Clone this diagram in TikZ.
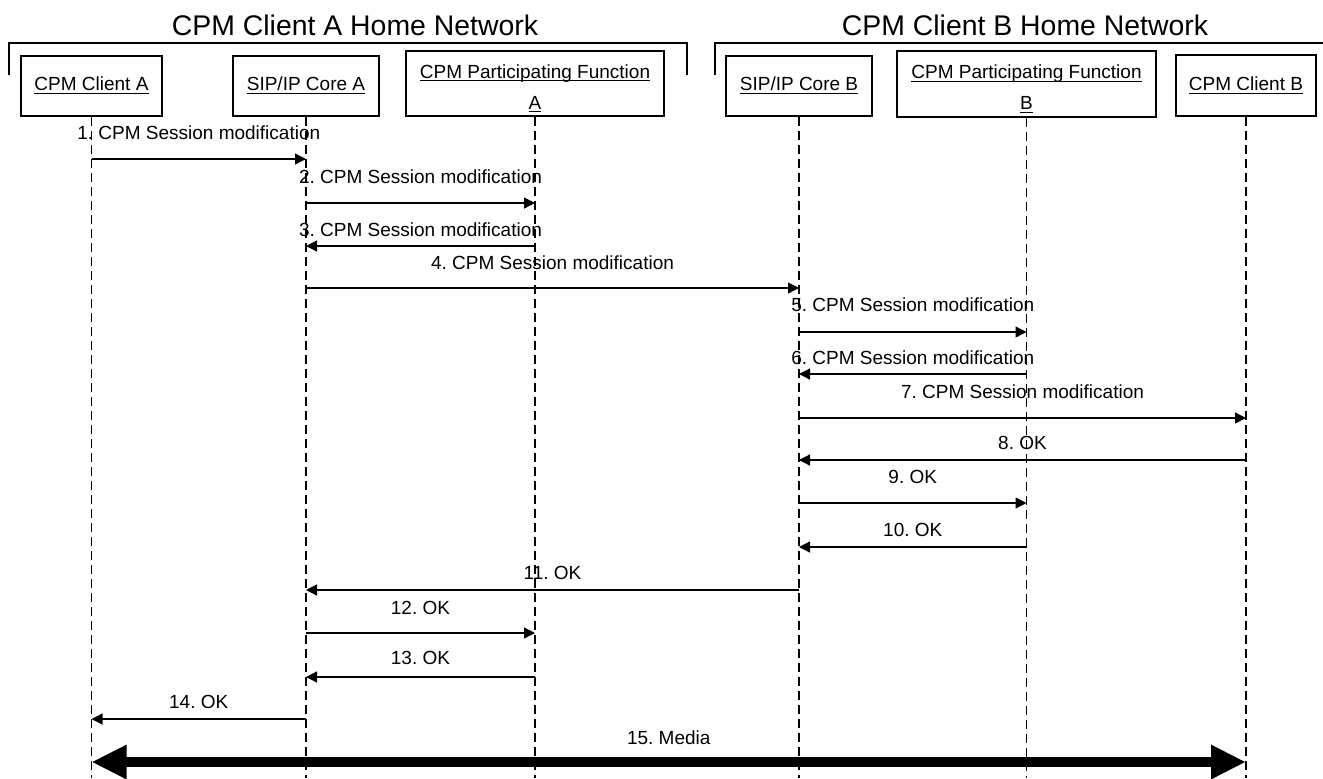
\documentclass[tikz,border=0pt]{standalone}
\usepackage{amsmath}
\usepackage{fontspec}
\setmainfont{Liberation Sans}
\usetikzlibrary{arrows.meta}
\newcommand\entlabel[1]{\underline{\smash[b]{#1}}}
\frenchspacing

\begin{document}
\begin{tikzpicture}[x=0.5pt,y=-0.5pt,
    entity/.style={
    % The shape:
    rectangle,inner sep=0pt,minimum height=30pt,
    % The rest
    draw=black,line width=0.8pt,align=center,
    font=\fontsize{9.5}{15.5}\selectfont},
    lifeline/.style={line width=0.55pt,dash pattern=on 4.5pt off 2.5pt},
    msg/.style={line width=0.65pt,-{Triangle[length=5.5pt,width=5.5pt]}},
    media/.style={line width=5pt,
      {Triangle[length=17.5pt,width=16pt]}-{Triangle[length=17.5pt,width=16pt]}},
    lbl/.style={font=\fontsize{9.5}{11}\selectfont,inner sep=0pt},
    net/.style={line width=0.9pt},
    title/.style={font=\fontsize{14.2}{17}\selectfont,inner sep=0pt}]
  \useasboundingbox (0,0) rectangle (1323,778);
  % home networks
  \draw[net] (9,75) -- (9,43) -- (687,43) -- (687,75);
  \draw[net] (715,75) -- (715,43) -- (1323,43);
  \node (netA) [title] at (355,25) {CPM Client A Home Network};
  \node (netB) [title] at (1025,25) {CPM Client B Home Network};
  % entities
  \node (cA) [entity,minimum width=70.5pt] at (91.5,86) {\entlabel{CPM Client A}};
  \node (kA) [entity,minimum width=73pt] at (306,86) {\entlabel{SIP/IP Core A}};
  \node (pA) [entity,minimum width=129pt,minimum height=32.5pt] at (535,83.5)
    {\rule{0pt}{12pt}\entlabel{CPM Participating Function}\\\entlabel{A}};
  \node (kB) [entity,minimum width=73pt] at (799,86) {\entlabel{SIP/IP Core B}};
  \node (pB) [entity,minimum width=129.5pt,minimum height=33pt] at (1026.5,84)
    {\rule{0pt}{12pt}\entlabel{CPM Participating Function}\\\entlabel{B}};
  \node (cB) [entity,minimum width=70pt,minimum height=30.5pt] at (1246,85.5) {\entlabel{CPM Client B}};
  % lifelines
  \coordinate (bottom) at (0,778);
  \foreach \n in {cA,kA,pA,kB,pB,cB}
    \draw[lifeline] (\n.south) -- (\n.south |- bottom);
  % messages
  \foreach \f/\t/\y/\ly/\txt in {
      cA/kA/159/133/{1. CPM Session modification},
      kA/pA/203/177/{2. CPM Session modification},
      pA/kA/246/230/{3. CPM Session modification},
      kA/kB/288/263/{4. CPM Session modification},
      kB/pB/332/305/{5. CPM Session modification},
      pB/kB/374/358/{6. CPM Session modification},
      kB/cB/418/392/{7. CPM Session modification},
      cB/kB/460/443/{8. OK},
      kB/pB/503/477/{9. OK},
      pB/kB/547/530/{10. OK},
      kB/kA/590/573/{11. OK},
      kA/pA/633/608/{12. OK},
      pA/kA/677/658/{13. OK},
      kA/cA/719/702/{14. OK}}{
    \coordinate (m) at (0,\y);
    \draw[msg] (\f |- m) -- (\t |- m)
      node[lbl,midway,yshift=(\y-\ly)*0.5pt] {\txt};
  }
  % media
  \coordinate (m15) at (0,762);
  \draw[media] (cA |- m15) -- (cB |- m15)
    node[lbl,midway,yshift=12pt] {15. Media};
\end{tikzpicture}
\end{document}
